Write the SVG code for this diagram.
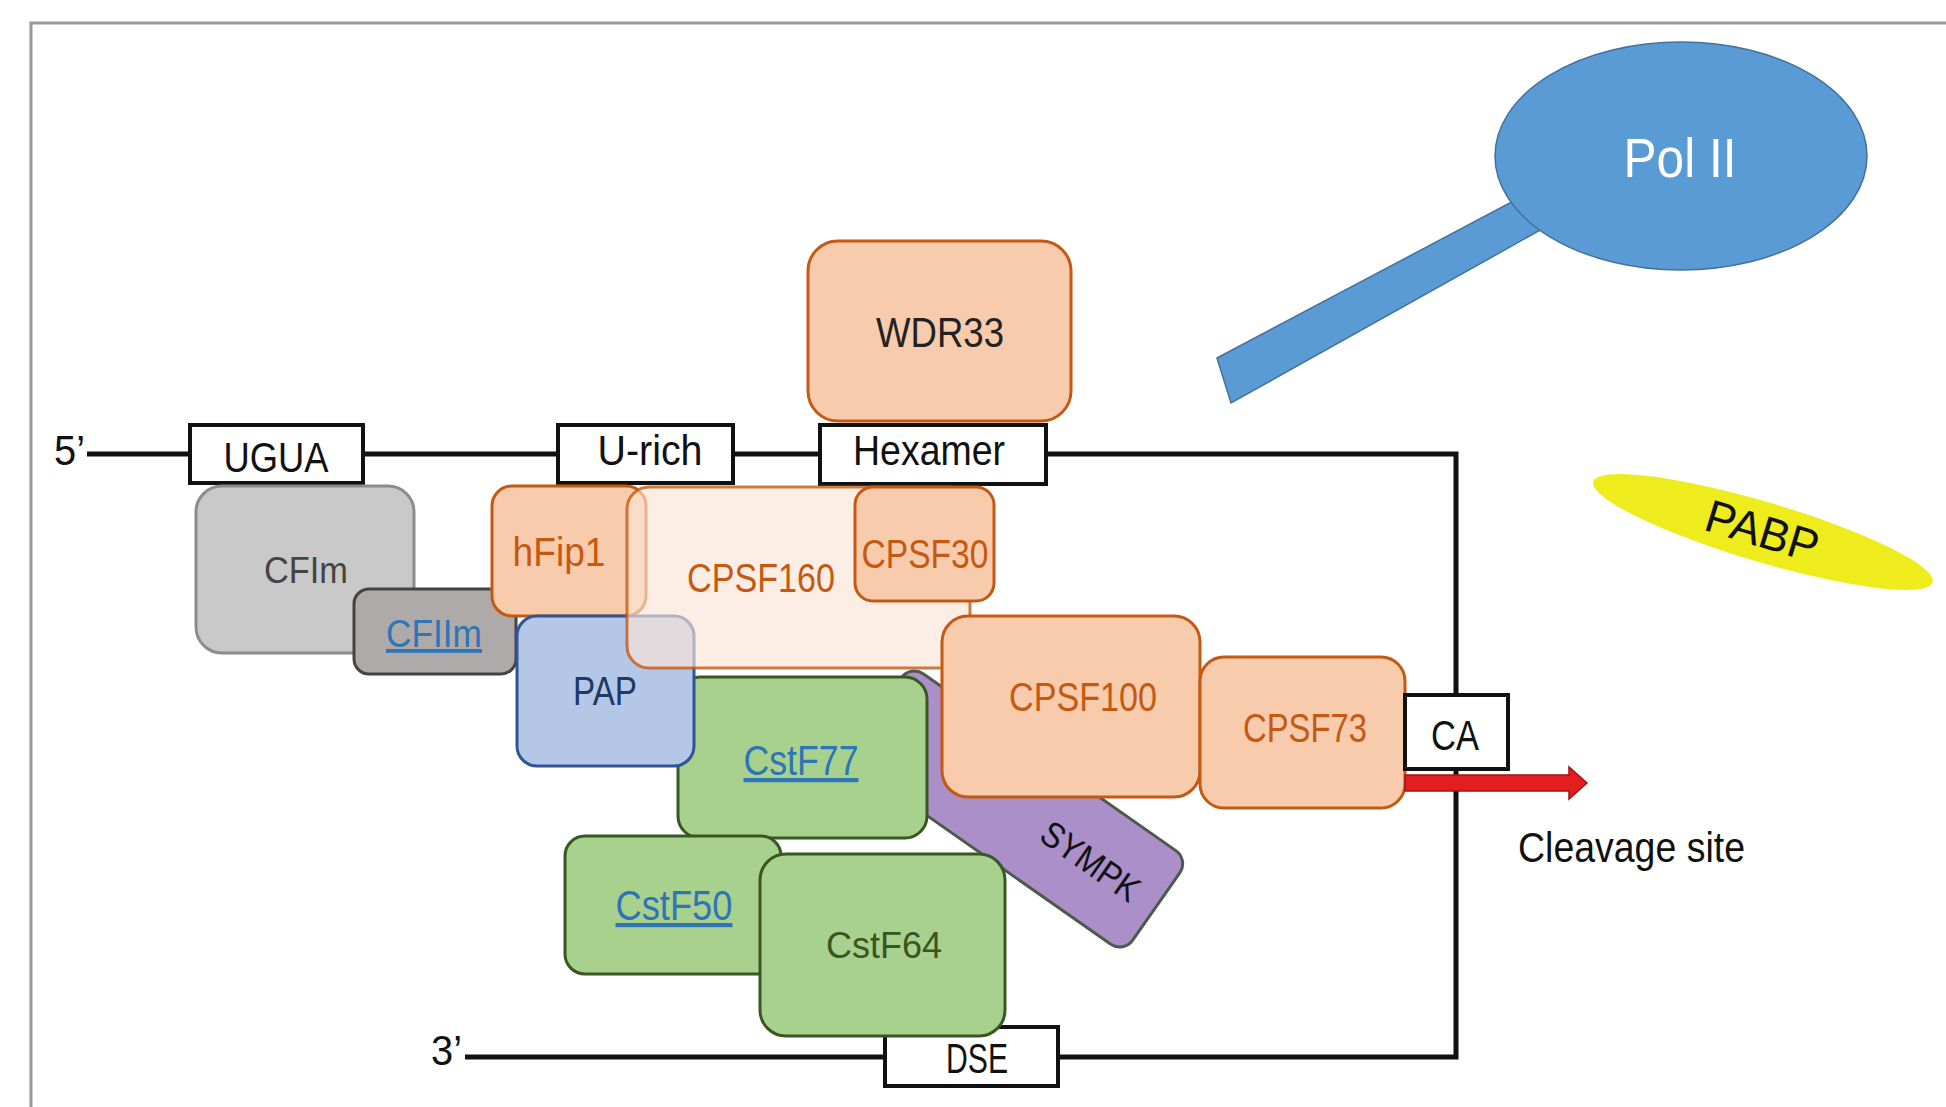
<svg xmlns="http://www.w3.org/2000/svg" width="1946" height="1107" viewBox="0 0 1946 1107">
  <style>
    text { font-family: "Liberation Sans", Arial, sans-serif; text-anchor: middle; }
    .frame { fill: none; stroke: #9a9a9a; stroke-width: 3; }
    .strand { fill: none; stroke: #111; stroke-width: 5; }
    .seq { fill: #fff; stroke: #111; stroke-width: 4; }
    .seq-t { fill: #111; font-size: 42px; }
    .cpsf { fill: #f8cbad; stroke: #c65911; stroke-width: 3; }
    .cpsf-t { fill: #c65911; font-size: 40px; }
    .cstf { fill: #a9d18e; stroke: #385723; stroke-width: 3; }
    .link-t { fill: #2e75b6; text-decoration: underline; }
    .lbl { fill: #111; font-size: 42px; }
  </style>

  <!-- outer frame, open towards the right and bottom -->
  <path class="frame" d="M31,1107 V23 H1946"/>

  <!-- RNA strand -->
  <g id="connectors">
    <path class="strand" d="M87,454 H1456 V1057 H465"/>
    <text class="lbl" x="54" y="465" style="text-anchor:start" font-size="39" textLength="31" lengthAdjust="spacingAndGlyphs">5’</text>
    <text class="lbl" x="431" y="1065" style="text-anchor:start" font-size="39" textLength="31" lengthAdjust="spacingAndGlyphs">3’</text>
  </g>

  <!-- RNA polymerase II with its CTD tail -->
  <g id="pol2">
    <polygon points="1217,358 1540,187 1560,219 1231,403" fill="#5b9bd5" stroke="#41719c" stroke-width="1.5"/>
    <ellipse cx="1681" cy="156" rx="186" ry="114" fill="#5b9bd5" stroke="#41719c" stroke-width="1.5"/>
    <text x="1680" y="177" fill="#fff" font-size="55" textLength="113" lengthAdjust="spacingAndGlyphs">Pol II</text>
  </g>

  <!-- poly(A) binding protein -->
  <g id="pabp">
    <ellipse cx="1763" cy="532" rx="177" ry="30" transform="rotate(16.5 1763 532)" fill="#eeec1c"/>
    <text x="1762" y="547" fill="#111" font-size="46" transform="rotate(17 1762 532)" textLength="116" lengthAdjust="spacingAndGlyphs">PABP</text>
  </g>

  <!-- sequence elements on the strand -->
  <g id="ugua">
    <rect class="seq" x="190" y="425" width="173" height="58"/>
    <text class="seq-t" x="276" y="472" textLength="105" lengthAdjust="spacingAndGlyphs">UGUA</text>
  </g>
  <g id="urich">
    <rect class="seq" x="558" y="425" width="175" height="58"/>
    <text class="seq-t" x="650" y="465" textLength="105" lengthAdjust="spacingAndGlyphs">U-rich</text>
  </g>
  <g id="hexamer">
    <rect class="seq" x="820" y="425" width="226" height="59"/>
    <text class="seq-t" x="929" y="465" textLength="152" lengthAdjust="spacingAndGlyphs">Hexamer</text>
  </g>
  <g id="dse">
    <rect class="seq" x="885" y="1027" width="173" height="59"/>
    <text class="seq-t" x="977" y="1073" font-size="40" textLength="62" lengthAdjust="spacingAndGlyphs">DSE</text>
  </g>

  <!-- CFI factors -->
  <g id="cfim">
    <rect x="196" y="486" width="218" height="167" rx="26" fill="#c9c9c9" stroke="#8c8c8c" stroke-width="3"/>
    <text x="306" y="583" fill="#444" font-size="36" textLength="84" lengthAdjust="spacingAndGlyphs">CFIm</text>
  </g>
  <g id="cfiim">
    <rect x="354" y="589" width="162" height="85" rx="15" fill="#aeaaaa" stroke="#444" stroke-width="3"/>
    <text class="link-t" x="434" y="647" font-size="38" textLength="96" lengthAdjust="spacingAndGlyphs">CFIIm</text>
  </g>

  <g id="hfip1">
    <rect class="cpsf" x="492" y="486" width="154" height="130" rx="20"/>
    <text class="cpsf-t" x="559" y="566" textLength="93" lengthAdjust="spacingAndGlyphs">hFip1</text>
  </g>

  <!-- symplekin, partly hidden below CstF77 and CPSF100 -->
  <g id="sympk">
    <rect x="-170" y="-57" width="340" height="114" rx="16" transform="translate(1017 809) rotate(35)" fill="#ab8fc9" stroke="#4b5a4b" stroke-width="3"/>
    <text x="90" y="13" fill="#111" font-size="36" transform="translate(1017 809) rotate(35)" textLength="112" lengthAdjust="spacingAndGlyphs">SYMPK</text>
  </g>

  <g id="cstf77">
    <rect class="cstf" x="678" y="677" width="249" height="161" rx="22"/>
    <text class="link-t" x="801" y="775" font-size="42" textLength="115" lengthAdjust="spacingAndGlyphs">CstF77</text>
  </g>

  <g id="pap">
    <rect x="517" y="616" width="177" height="150" rx="20" fill="#b4c7e7" stroke="#2f5597" stroke-width="3"/>
    <text x="605" y="705" fill="#1f3864" font-size="40" textLength="64" lengthAdjust="spacingAndGlyphs">PAP</text>
  </g>

  <!-- CPSF160 is see-through over hFip1 and PAP -->
  <g id="cpsf160">
    <rect x="627" y="487" width="343" height="181" rx="22" fill="#fbe5d6" fill-opacity="0.65" stroke="#c65911" stroke-opacity="0.8" stroke-width="3"/>
    <text class="cpsf-t" x="761" y="592" textLength="148" lengthAdjust="spacingAndGlyphs">CPSF160</text>
  </g>

  <g id="cpsf30">
    <rect class="cpsf" x="855" y="487" width="139" height="114" rx="18"/>
    <text class="cpsf-t" x="925" y="568" textLength="127" lengthAdjust="spacingAndGlyphs">CPSF30</text>
  </g>

  <g id="cpsf100">
    <rect class="cpsf" x="942" y="616" width="258" height="181" rx="26"/>
    <text class="cpsf-t" x="1083" y="711" textLength="148" lengthAdjust="spacingAndGlyphs">CPSF100</text>
  </g>

  <g id="cpsf73">
    <rect class="cpsf" x="1200" y="657" width="205" height="151" rx="24"/>
    <text class="cpsf-t" x="1305" y="742" font-size="41" textLength="124" lengthAdjust="spacingAndGlyphs">CPSF73</text>
  </g>

  <g id="ca">
    <rect class="seq" x="1405" y="695" width="103" height="74"/>
    <text class="seq-t" x="1455" y="750" textLength="48" lengthAdjust="spacingAndGlyphs">CA</text>
  </g>

  <!-- cleavage site marker -->
  <g id="cleavage">
    <polygon points="1405,775 1569,775 1569,767 1587,783 1569,799 1569,791 1405,791" fill="#e41e1e" stroke="#a31515" stroke-width="1.5"/>
    <text class="lbl" x="1518" y="862" style="text-anchor:start" textLength="227" lengthAdjust="spacingAndGlyphs">Cleavage site</text>
  </g>

  <g id="cstf50">
    <rect class="cstf" x="565" y="836" width="216" height="138" rx="20"/>
    <text class="link-t" x="674" y="920" font-size="42" textLength="117" lengthAdjust="spacingAndGlyphs">CstF50</text>
  </g>

  <g id="cstf64">
    <rect class="cstf" x="760" y="854" width="245" height="182" rx="26"/>
    <text x="884" y="958" fill="#375623" font-size="37" textLength="116" lengthAdjust="spacingAndGlyphs">CstF64</text>
  </g>

  <g id="wdr33">
    <rect class="cpsf" x="808" y="241" width="263" height="180" rx="30"/>
    <text x="940" y="347" fill="#222" font-size="42" textLength="128" lengthAdjust="spacingAndGlyphs">WDR33</text>
  </g>
</svg>
